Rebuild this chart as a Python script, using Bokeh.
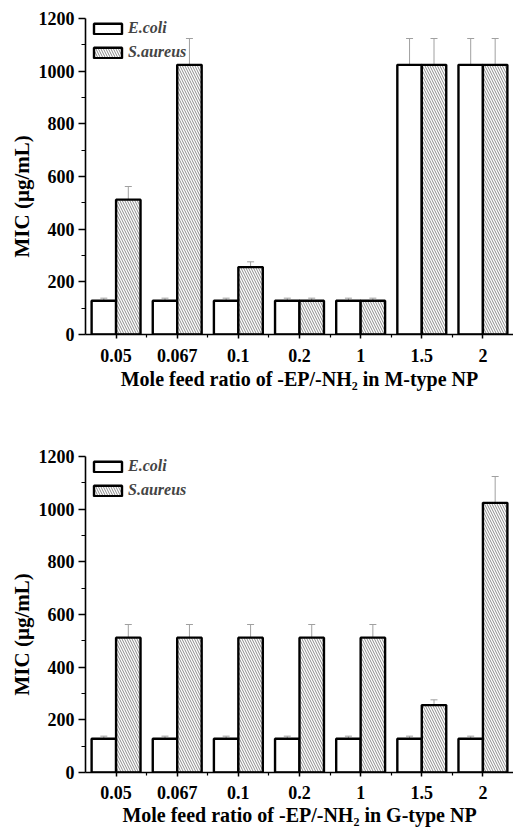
from bokeh.plotting import figure
from bokeh.models import Range1d, FixedTicker, ColumnDataSource, Whisker, TeeHead, Legend, LegendItem, Title
from bokeh.transform import dodge
from bokeh.layouts import column
from bokeh.embed import file_html
from bokeh.resources import INLINE

ratios = ["0.05", "0.067", "0.1", "0.2", "1", "1.5", "2"]

m_ecoli = [128, 128, 128, 128, 128, 1024, 1024]
m_saureus = [512, 1024, 256, 128, 128, 1024, 1024]
m_ecoli_err = [10, 10, 10, 10, 10, 100, 100]
m_saureus_err = [50, 100, 20, 10, 10, 100, 100]

g_ecoli = [128, 128, 128, 128, 128, 128, 128]
g_saureus = [512, 512, 512, 512, 512, 256, 1024]
g_ecoli_err = [10, 10, 10, 10, 10, 10, 10]
g_saureus_err = [50, 50, 50, 50, 50, 20, 100]

y_ticks = [0, 200, 400, 600, 800, 1000, 1200]
y_minor = [100, 300, 500, 700, 900, 1100]

FONT = "Liberation Serif"
ERR = "#a0a0a0"
HATCH = "#8c8c8c"


def panel(ecoli, saureus, e_err, s_err, xlabel, height, top, bottom, tick_sd, label_sd):
    n = len(ratios)
    xs = list(range(n))
    src = ColumnDataSource(dict(
        x=xs, ecoli=ecoli, saureus=saureus,
        e_lo=[v - e for v, e in zip(ecoli, e_err)],
        e_hi=[v + e for v, e in zip(ecoli, e_err)],
        s_lo=[v - e for v, e in zip(saureus, s_err)],
        s_hi=[v + e for v, e in zip(saureus, s_err)],
    ))
    p = figure(width=513, height=height, output_backend="svg", toolbar_location=None,
               x_range=Range1d(-0.5, n - 0.5), y_range=Range1d(0, 1200),
               min_border_left=85, min_border_right=0, min_border_top=top,
               min_border_bottom=bottom)
    p.outline_line_color = None
    p.xgrid.visible = False
    p.ygrid.visible = False
    p.background_fill_color = "white"
    p.border_fill_color = "white"

    r1 = p.vbar(x=dodge("x", -0.2), top="ecoli", width=0.4, bottom=0, source=src,
                fill_color="white", line_color="black", line_width=2.4)
    r2 = p.vbar(x=dodge("x", 0.2), top="saureus", width=0.4, bottom=0, source=src,
                fill_color="white", line_color="black", line_width=2.4,
                hatch_pattern="\\", hatch_color=HATCH, hatch_scale=5, hatch_weight=1)

    for base, lo, hi in ((dodge("x", -0.2), "e_lo", "e_hi"), (dodge("x", 0.2), "s_lo", "s_hi")):
        w = Whisker(source=src, base=base, lower=lo, upper=hi, line_color=ERR, line_width=1,
                    upper_head=TeeHead(size=7, line_color=ERR, line_width=1),
                    lower_head=TeeHead(size=7, line_color=ERR, line_width=1))
        p.add_layout(w)

    legend = Legend(items=[LegendItem(label="E.coli", renderers=[r1]),
                           LegendItem(label="S.aureus", renderers=[r2])],
                    location=(5, 316 - 9 - 34), padding=0, margin=0, spacing=6,
                    glyph_width=35, glyph_height=13, label_height=14, label_standoff=3,
                    label_text_font=FONT, label_text_font_style="bold italic",
                    label_text_font_size="16px", border_line_color=None,
                    background_fill_alpha=0)
    p.add_layout(legend)

    xa = p.xaxis[0]
    xa.ticker = FixedTicker(ticks=xs, minor_ticks=[i + 0.5 for i in xs[:-1]])
    xa.major_label_overrides = {i: r for i, r in zip(xs, ratios)}
    xa.axis_label = xlabel
    ya = p.yaxis[0]
    ya.ticker = FixedTicker(ticks=y_ticks, minor_ticks=y_minor)

    for ax in (xa, ya):
        ax.axis_line_color = "black"
        ax.axis_line_width = 1.6
        ax.major_tick_line_color = "black"
        ax.minor_tick_line_color = "black"
        ax.major_tick_line_width = 1.5
        ax.minor_tick_line_width = 1.2
        ax.major_tick_in = 0
        ax.minor_tick_in = 0
        ax.major_label_text_font = FONT
        ax.major_label_text_font_style = "bold"
        ax.major_label_text_font_size = "18px"
        ax.major_label_text_color = "black"
        ax.axis_label_text_font = FONT
        ax.axis_label_text_font_style = "bold"
        ax.axis_label_text_font_size = "20px"
        ax.axis_label_text_color = "black"
    xa.major_tick_out = 4
    xa.minor_tick_out = 3
    xa.major_label_standoff = tick_sd
    xa.axis_label_standoff = label_sd
    ya.major_tick_out = 7
    ya.minor_tick_out = 4
    ya.major_label_standoff = 4

    ytitle = Title(text="MIC (µg/mL)", align="left", offset=77, standoff=4,
                   text_font=FONT, text_font_style="bold", text_font_size="21px",
                   text_color="black")
    p.add_layout(ytitle, "left")
    return p


p1 = panel(m_ecoli, m_saureus, m_ecoli_err, m_saureus_err,
           "Mole feed ratio of -EP/-NH₂ in M-type NP", 414, 18, 80, 10, 3)
p2 = panel(g_ecoli, g_saureus, g_ecoli_err, g_saureus_err,
           "Mole feed ratio of -EP/-NH₂ in G-type NP", 417, 42, 59, 9, 2)

layout = column(p1, p2, spacing=0)
open("out.html", "w").write(file_html(layout, INLINE))
